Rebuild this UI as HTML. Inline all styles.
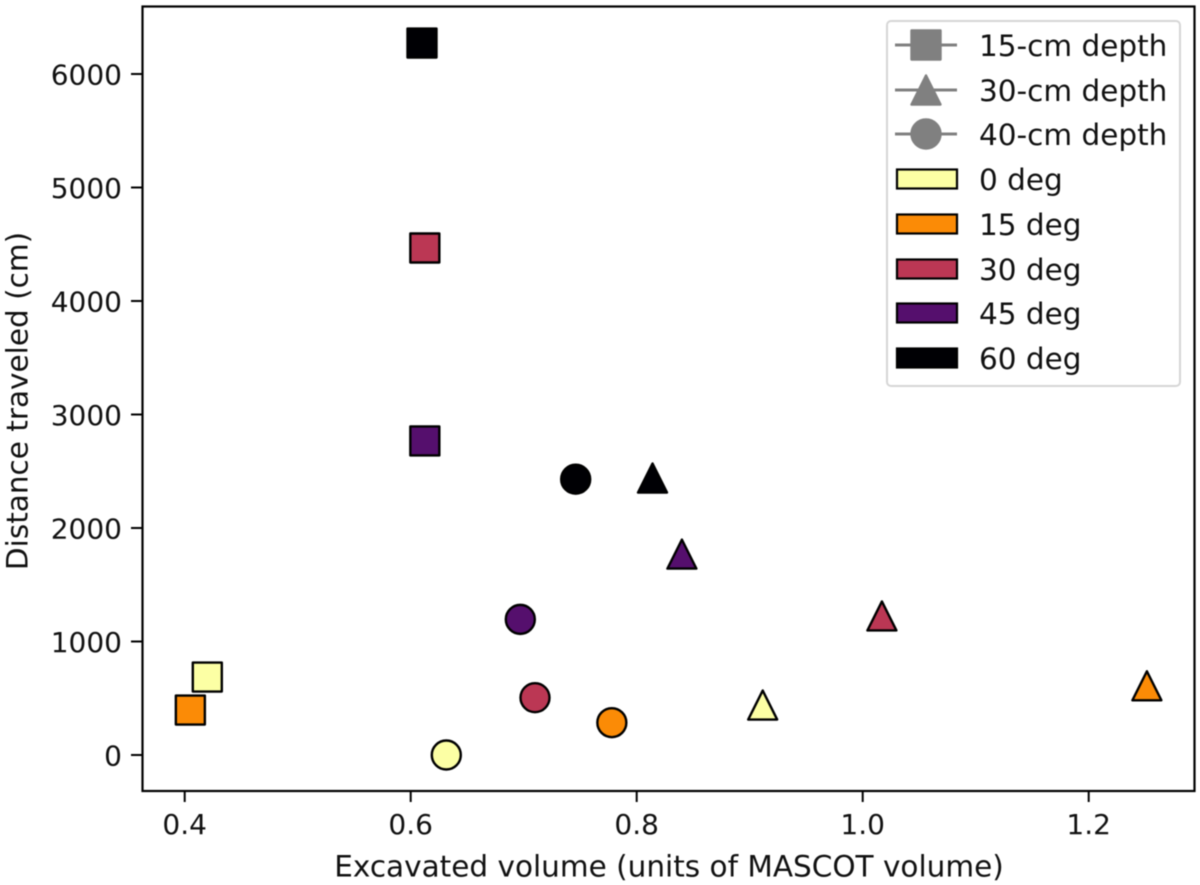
<!DOCTYPE html>
<html>
<head>
<meta charset="utf-8">
<style>
html,body{margin:0;padding:0;background:#fff;width:1200px;height:885px;overflow:hidden}
svg{display:block;filter:blur(0.5px)}
text{font-family:"DejaVu Sans","Liberation Sans",sans-serif;fill:#111;font-size:29px}
</style>
</head>
<body>
<svg id="chart" xmlns="http://www.w3.org/2000/svg" width="1200" height="885" viewBox="0 0 1200 885">
  <g id="marks"></g>
  <rect x="142.5" y="6.5" width="1052" height="784.5" fill="none" stroke="#000" stroke-width="2.2"/>
  <g id="xticks"></g>
  <g id="yticks"></g>
  <text x="669" y="876.5" text-anchor="middle" style="font-size:29.5px">Excavated volume (units of MASCOT volume)</text>
  <text transform="translate(27.5,401) rotate(-90)" text-anchor="middle" style="font-size:29.5px">Distance traveled (cm)</text>
  <g id="legend">
    <rect x="887" y="21" width="293" height="365" rx="4" fill="#fff" fill-opacity="0.8" stroke="#d6d6d6" stroke-width="2"/>
  </g>
</svg>
<script>
var xTickValues = [0.4, 0.6, 0.8, 1.0, 1.2];
var yTickValues = [0, 1000, 2000, 3000, 4000, 5000, 6000];
var angleLabels = ['0 deg', '15 deg', '30 deg', '45 deg', '60 deg'];
var angleColors = ['#fcffa4', '#fb8b06', '#bb3754', '#550f6d', '#000004'];
var depthLabels = ['15-cm depth', '30-cm depth', '40-cm depth'];
var volume15cm = [0.42, 0.405, 0.6125, 0.6125, 0.61];
var distance15cm = [687, 396, 4467, 2767, 6273];
var volume30cm = [0.9115, 1.2515, 1.017, 0.84, 0.814];
var distance30cm = [440, 610, 1225, 1770, 2440];
var volume40cm = [0.6315, 0.778, 0.71, 0.697, 0.746];
var distance40cm = [0, 285, 505, 1195, 2430];

var NS = 'http://www.w3.org/2000/svg';
function xScale(v) { return 184.7 + (v - 0.4) * 1130; }
function yScale(v) { return 755 - v * 0.1135; }
function make(tag, attrs, parent) {
  var el = document.createElementNS(NS, tag);
  for (var k in attrs) el.setAttribute(k, attrs[k]);
  parent.appendChild(el);
  return el;
}
function drawSquare(parent, cx, cy, fill, stroke, half) {
  return make('rect', {x: cx - half, y: cy - half, width: half * 2, height: half * 2, fill: fill, stroke: stroke, 'stroke-width': 2.4, 'stroke-linejoin': 'round'}, parent);
}
function drawTriangle(parent, cx, cy, fill, stroke, half) {
  var pts = cx + ',' + (cy - half) + ' ' + (cx - half) + ',' + (cy + half) + ' ' + (cx + half) + ',' + (cy + half);
  return make('polygon', {points: pts, fill: fill, stroke: stroke, 'stroke-width': 2.4, 'stroke-linejoin': 'round'}, parent);
}
function drawCircle(parent, cx, cy, fill, stroke, half) {
  return make('circle', {cx: cx, cy: cy, r: half, fill: fill, stroke: stroke, 'stroke-width': 2.4}, parent);
}

var marks = document.getElementById('marks');
angleColors.forEach(function (color, i) {
  var a = drawSquare(marks, xScale(volume15cm[i]), yScale(distance15cm[i]), color, '#000', 14.5);
  
  
  var b = drawTriangle(marks, xScale(volume30cm[i]), yScale(distance30cm[i]), color, '#000', 14.5);
  
  
  var c = drawCircle(marks, xScale(volume40cm[i]), yScale(distance40cm[i]), color, '#000', 14.5);
  
  
});

var xt = document.getElementById('xticks');
xTickValues.forEach(function (v) {
  var x = xScale(v);
  var t = make('line', {x1: x, x2: x, y1: 791, y2: 802, stroke: '#000', 'stroke-width': 2}, xt);
  
  
  var l = make('text', {x: x, y: 834, 'text-anchor': 'middle', style: 'font-size:28px'}, xt);
  l.textContent = v.toFixed(1);
  
  
});

var yt = document.getElementById('yticks');
yTickValues.forEach(function (v) {
  var y = yScale(v);
  var t = make('line', {x1: 131, x2: 142, y1: y, y2: y, stroke: '#000', 'stroke-width': 2}, yt);
  
  
  var l = make('text', {x: 122, y: y + 10.5, 'text-anchor': 'end', style: 'font-size:28px'}, yt);
  l.textContent = String(v);
  
  
});

var lg = document.getElementById('legend');
var rowY = [45, 90, 134, 179, 224, 269, 313, 358];
var drawers = [drawSquare, drawTriangle, drawCircle];
depthLabels.forEach(function (label, i) {
  var y = rowY[i];
  var ln = make('line', {x1: 895, x2: 957, y1: y, y2: y, stroke: '#808080', 'stroke-width': 3}, lg);
  
  
  var m = drawers[i](lg, 926, y, '#808080', '#808080', 14.5);
  
  
  var t = make('text', {x: 979, y: y + 11, style: 'font-size:29.5px'}, lg);
  t.textContent = label;
  
  
});
angleLabels.forEach(function (label, i) {
  var y = rowY[i + 3];
  var r = make('rect', {x: 897, y: y - 9.5, width: 60, height: 19, fill: angleColors[i], stroke: '#000', 'stroke-width': 2.2}, lg);
  
  
  var t = make('text', {x: 979, y: y + 11, style: 'font-size:29.5px'}, lg);
  t.textContent = label;
  
  
});
</script>
</body>
</html>
